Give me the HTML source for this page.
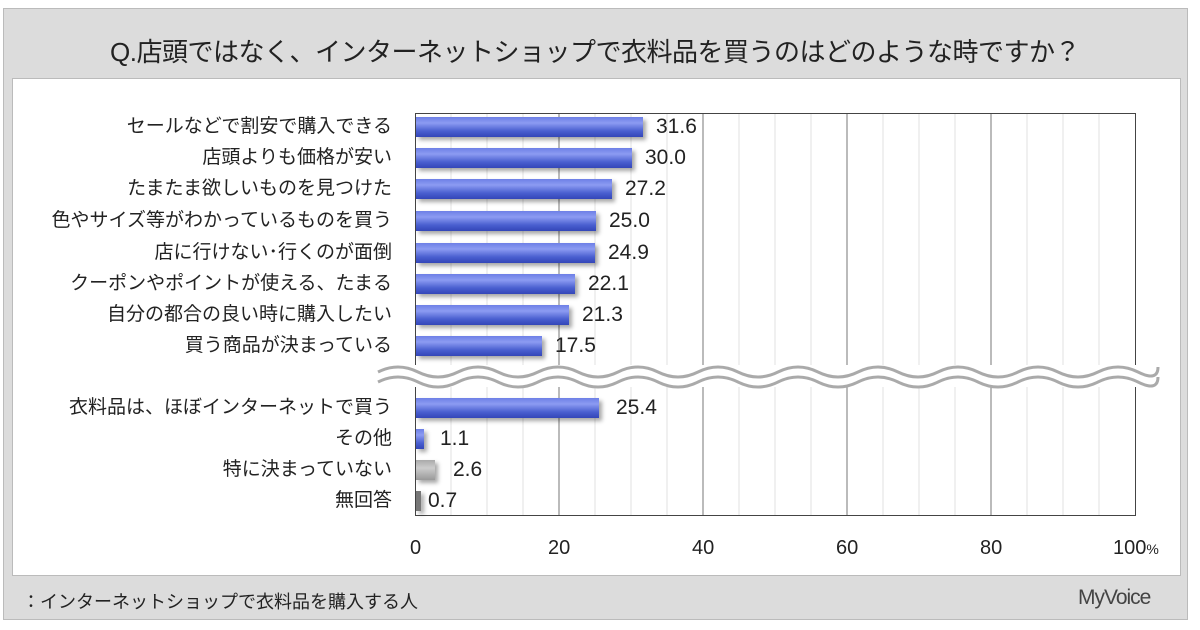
<!DOCTYPE html><html><head><meta charset="utf-8"><style>
body{margin:0;width:1200px;height:630px;background:#fff;font-family:"Liberation Sans","Noto Sans CJK JP",sans-serif;position:relative;overflow:hidden}
.frame{position:absolute;left:3px;top:8px;width:1183px;height:610px;background:#dcdcdc;border:1px solid #bbb}
.title{position:absolute;left:0;top:32px;width:1190px;text-align:center;font-size:26px;color:#222;letter-spacing:-0.5px}
.panel{position:absolute;left:12px;top:78px;width:1167px;height:496px;background:#fff;border:1px solid #bbb}
.lbl{position:absolute;right:808px;font-size:19px;color:#222;white-space:nowrap;line-height:22px}
.bar{position:absolute;left:416px;height:20px;background:linear-gradient(#6d7fe6,#8c9bf2 30%,#4a5fd0 70%,#3346b8);box-shadow:3px 3px 4px rgba(0,0,0,.35)}
.val{position:absolute;font-size:21px;color:#222;line-height:22px}
.tick{position:absolute;top:537px;font-size:20px;color:#222}
</style></head><body>
<div class="frame"></div>
<div class="title">Q.店頭ではなく、インターネットショップで衣料品を買うのはどのような時ですか？</div>
<div class="panel"></div>
<svg style="position:absolute;left:0;top:0" width="1200" height="630">
<g stroke="#e2e2e2" stroke-width="1">
<line x1="451" y1="113" x2="451" y2="515"/><line x1="487" y1="113" x2="487" y2="515"/><line x1="523" y1="113" x2="523" y2="515"/>
<line x1="595" y1="113" x2="595" y2="515"/><line x1="631" y1="113" x2="631" y2="515"/><line x1="667" y1="113" x2="667" y2="515"/>
<line x1="739" y1="113" x2="739" y2="515"/><line x1="775" y1="113" x2="775" y2="515"/><line x1="811" y1="113" x2="811" y2="515"/>
<line x1="883" y1="113" x2="883" y2="515"/><line x1="919" y1="113" x2="919" y2="515"/><line x1="955" y1="113" x2="955" y2="515"/>
<line x1="1027" y1="113" x2="1027" y2="515"/><line x1="1063" y1="113" x2="1063" y2="515"/><line x1="1099" y1="113" x2="1099" y2="515"/>
</g>
<g stroke="#777" stroke-width="1">
<line x1="559" y1="113" x2="559" y2="515"/><line x1="703" y1="113" x2="703" y2="515"/><line x1="847" y1="113" x2="847" y2="515"/><line x1="991" y1="113" x2="991" y2="515"/>
</g>
<rect x="415.5" y="113.5" width="720" height="402" fill="none" stroke="#444"/>
<rect x="375" y="365" width="790" height="22" fill="#fff"/>
<path d="M378 372 q20 -10 40 0 t40 0 t40 0 t40 0 t40 0 t40 0 t40 0 t40 0 t40 0 t40 0 t40 0 t40 0 t40 0 t40 0 t40 0 t40 0 t40 0 t40 0 t40 0 t20 -5" fill="none" stroke="#aaa" stroke-width="3"/>
<path d="M378 382 q20 -10 40 0 t40 0 t40 0 t40 0 t40 0 t40 0 t40 0 t40 0 t40 0 t40 0 t40 0 t40 0 t40 0 t40 0 t40 0 t40 0 t40 0 t40 0 t40 0 t20 -5" fill="none" stroke="#aaa" stroke-width="3"/>
</svg>
<div class="lbl" style="top:116px">セールなどで割安で購入できる</div>
<div class="lbl" style="top:147px">店頭よりも価格が安い</div>
<div class="lbl" style="top:178px">たまたま欲しいものを見つけた</div>
<div class="lbl" style="top:210px">色やサイズ等がわかっているものを買う</div>
<div class="lbl" style="top:242px">店に行けない･行くのが面倒</div>
<div class="lbl" style="top:273px">クーポンやポイントが使える、たまる</div>
<div class="lbl" style="top:304px">自分の都合の良い時に購入したい</div>
<div class="lbl" style="top:335px">買う商品が決まっている</div>
<div class="lbl" style="top:397px">衣料品は、ほぼインターネットで買う</div>
<div class="lbl" style="top:428px">その他</div>
<div class="lbl" style="top:459px">特に決まっていない</div>
<div class="lbl" style="top:490px">無回答</div>
<div class="bar" style="top:117px;width:227px"></div><div class="val" style="left:656px;top:116px">31.6</div>
<div class="bar" style="top:148px;width:216px"></div><div class="val" style="left:645px;top:147px">30.0</div>
<div class="bar" style="top:179px;width:196px"></div><div class="val" style="left:625px;top:178px">27.2</div>
<div class="bar" style="top:211px;width:180px"></div><div class="val" style="left:609px;top:210px">25.0</div>
<div class="bar" style="top:243px;width:179px"></div><div class="val" style="left:608px;top:242px">24.9</div>
<div class="bar" style="top:274px;width:159px"></div><div class="val" style="left:588px;top:273px">22.1</div>
<div class="bar" style="top:305px;width:153px"></div><div class="val" style="left:582px;top:304px">21.3</div>
<div class="bar" style="top:336px;width:126px"></div><div class="val" style="left:555px;top:335px">17.5</div>
<div class="bar" style="top:398px;width:183px"></div><div class="val" style="left:616px;top:397px">25.4</div>
<div class="bar" style="top:429px;width:8px"></div><div class="val" style="left:440px;top:428px">1.1</div>
<div class="bar" style="top:460px;width:19px;background:linear-gradient(#aaa,#ccc 40%,#999)"></div><div class="val" style="left:453px;top:459px">2.6</div>
<div class="bar" style="top:491px;width:5px;background:#777"></div><div class="val" style="left:428px;top:490px">0.7</div>
<div class="tick" style="left:410px">0</div>
<div class="tick" style="left:548px">20</div>
<div class="tick" style="left:692px">40</div>
<div class="tick" style="left:836px">60</div>
<div class="tick" style="left:980px">80</div>
<div class="tick" style="left:1113px">100<span style="font-size:14px">%</span></div>
<div style="position:absolute;left:22px;top:588px;font-size:18px;color:#222">：インターネットショップで衣料品を購入する人</div>
<div style="position:absolute;left:1078px;top:586px;font-size:21px;color:#444;letter-spacing:-1px">MyVoice</div>
</body></html>
